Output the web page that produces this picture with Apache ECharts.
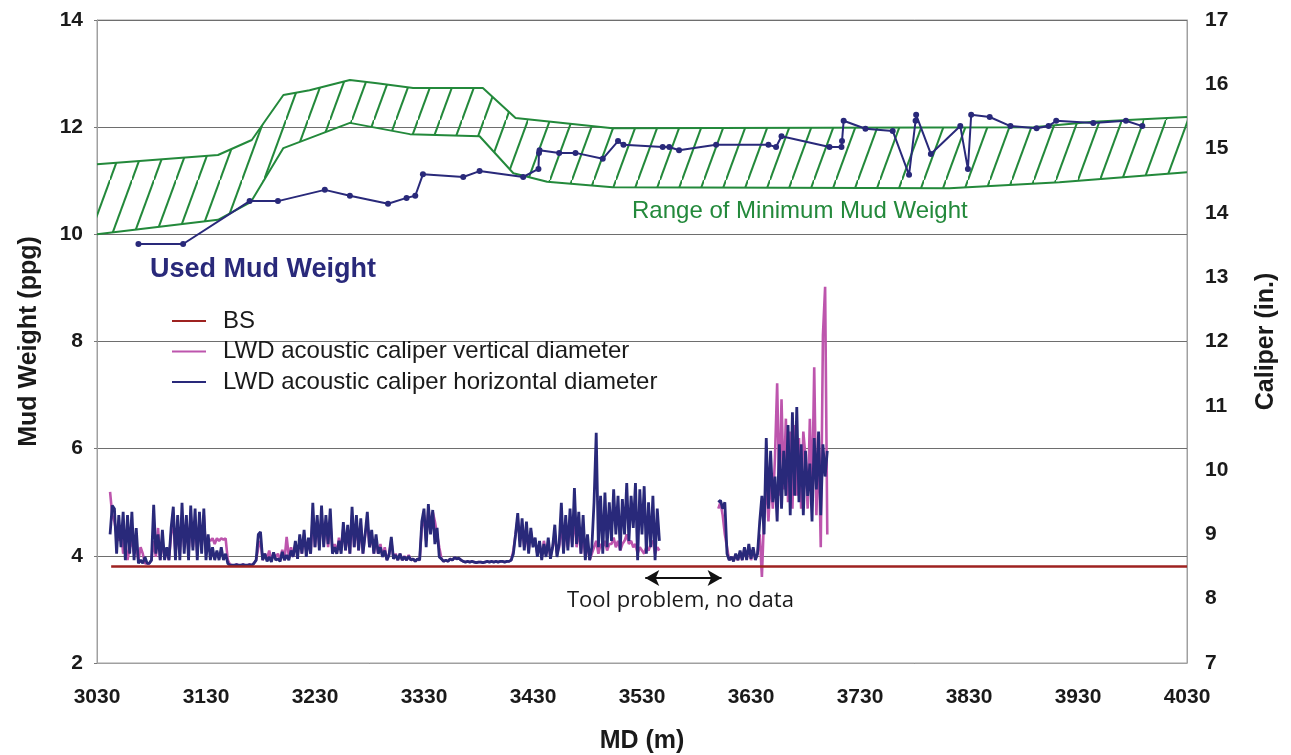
<!DOCTYPE html>
<html>
<head>
<meta charset="utf-8">
<script src="https://cdn.jsdelivr.net/npm/echarts@6/dist/echarts.min.js"></script>
<style>
html,body{margin:0;padding:0;background:#fff;}
#chart{width:1291px;height:755px;}
</style>
</head>
<body>
<div id="chart"></div>
<script>
// ---------- DATA ----------
// Range of minimum mud weight (ppg) vs MD (m)
var rangeUpperMD = [3030, 3141, 3172, 3201, 3225, 3262, 3287, 3320, 3384, 3414, 3503, 3889, 3944, 4030];
var rangeUpper   = [11.31, 11.48, 11.76, 12.6, 12.69, 12.88, 12.82, 12.73, 12.73, 12.17, 11.98, 12.0, 12.1, 12.19];
var rangeLowerMD = [3030, 3141, 3171, 3201, 3262, 3317, 3381, 3412, 3443, 3503, 3812, 3913, 4030];
var rangeLower   = [10.0, 10.27, 10.6, 11.61, 12.08, 11.87, 11.83, 11.14, 10.98, 10.88, 10.86, 10.97, 11.16];

// Used mud weight (ppg)
var usedMD = [3068, 3109, 3170, 3196, 3239, 3262, 3297, 3314, 3322, 3329, 3366, 3381, 3421, 3435, 3435.5, 3436,
  3454, 3469, 3494, 3508, 3513, 3549, 3555, 3564, 3598, 3646, 3653, 3658, 3702, 3713, 3713.5, 3715, 3735,
  3760, 3775, 3781, 3781.5, 3795, 3822, 3829, 3832, 3849, 3868, 3892, 3903, 3910, 3944, 3974, 3989];
var usedMW = [9.82, 9.82, 10.62, 10.62, 10.83, 10.72, 10.57, 10.68, 10.72, 11.12, 11.07, 11.18, 11.07, 11.22, 11.52, 11.57,
  11.52, 11.52, 11.41, 11.74, 11.67, 11.63, 11.63, 11.57, 11.67, 11.67, 11.63, 11.83, 11.63, 11.63, 11.74, 12.12, 11.97,
  11.93, 11.11, 12.12, 12.23, 11.5, 12.02, 11.22, 12.23, 12.19, 12.02, 11.98, 12.02, 12.12, 12.08, 12.12, 12.02];

// Bit size (in.)
var bsMD = [3043, 4030];
var bsValue = [8.5, 8.5];

// LWD acoustic caliper, sampled every 2 m (in.)
var calStep = 2;
var calStartA = 3042;   // first logged interval
var calStartB = 3600;   // after tool problem gap
var horizA = [
  9.0, 9.45, 9.4, 8.7, 9.3, 8.8, 9.35, 8.6, 9.3, 8.7,
  9.35, 8.6, 9.1, 8.55, 8.6, 8.55, 8.65, 8.55, 8.55, 8.6,
  9.46, 8.7, 9.0, 8.6, 9.07, 8.6, 8.8, 8.6, 9.1, 9.43,
  8.6, 9.3, 8.6, 9.49, 8.7, 9.3, 8.6, 9.45, 8.75, 9.4,
  8.6, 9.35, 8.7, 9.4, 8.6, 9.0, 8.6, 8.8, 8.6, 8.75,
  8.6, 8.8, 8.6, 8.7, 8.55, 8.52, 8.52, 8.52, 8.53, 8.52,
  8.52, 8.53, 8.52, 8.52, 8.53, 8.52, 8.55, 8.6, 9.0, 9.04,
  8.6, 8.7, 8.58, 8.65, 8.57, 8.72, 8.6, 8.62, 8.58, 8.73,
  8.6, 8.68, 8.6, 8.75, 8.65, 8.9, 8.62, 9.0, 8.7, 9.07,
  8.65, 8.95, 8.7, 9.49, 8.8, 9.3, 8.75, 9.45, 8.8, 9.3,
  8.85, 9.4, 8.7, 8.8, 8.7, 8.9, 8.7, 9.19, 8.75, 9.15,
  8.7, 9.43, 8.8, 9.3, 8.75, 9.25, 8.7, 9.0, 9.35, 8.8,
  9.07, 8.7, 9.0, 8.7, 8.8, 8.65, 8.75, 8.6, 8.68, 8.96,
  8.62, 8.68, 8.6, 8.7, 8.6, 8.65, 8.6, 8.66, 8.6, 8.62,
  8.58, 8.62, 8.6, 9.2, 9.4, 8.8, 9.47, 9.0, 9.38, 8.85,
  9.1, 8.65, 8.62, 8.58, 8.6, 8.58, 8.62, 8.6, 8.64, 8.62,
  8.63, 8.6, 8.58, 8.57, 8.58, 8.57, 8.58, 8.57, 8.56, 8.57,
  8.57, 8.56, 8.57, 8.58, 8.57, 8.58, 8.57, 8.58, 8.57, 8.58,
  8.58, 8.57, 8.58, 8.58, 8.6, 8.7, 9.0, 9.33, 8.8, 9.25,
  8.75, 9.2, 8.7, 9.1, 8.8, 8.95, 8.65, 8.9, 8.6, 8.85,
  8.65, 8.95, 8.62, 8.8, 9.15, 8.65, 8.85, 9.49, 8.7, 9.3,
  8.75, 9.4, 8.8, 9.72, 8.85, 9.35, 8.7, 9.3, 8.6, 9.0,
  8.6, 8.8, 9.5, 10.58, 8.8, 9.6, 8.7, 9.65, 8.8, 9.5,
  8.9, 9.7, 9.0, 9.6, 8.75, 9.55, 9.0, 9.8, 8.9, 9.6,
  9.1, 9.8, 8.6, 9.7, 9.0, 9.75, 8.7, 9.5, 8.8, 9.6,
  8.6, 9.4, 8.9
];
var vertA = [
  9.66, 9.3, 9.2, 9.0, 8.9, 9.1, 8.7, 8.9, 8.6, 8.8,
  8.9, 8.7, 8.8, 8.6, 8.8, 8.7, 8.55, 8.55, 8.55, 8.6,
  8.9, 8.65, 9.1, 8.6, 8.9, 8.65, 8.7, 8.6, 9.0, 9.2,
  8.7, 9.1, 8.7, 9.3, 8.8, 9.2, 8.7, 9.3, 8.8, 9.2,
  8.7, 9.2, 8.8, 9.3, 8.7, 8.94, 8.9, 8.94, 8.85, 8.94,
  8.9, 8.94, 8.92, 8.94, 8.6, 8.53, 8.52, 8.52, 8.53, 8.52,
  8.52, 8.53, 8.52, 8.52, 8.53, 8.52, 8.55, 8.6, 8.8, 8.9,
  8.6, 8.7, 8.62, 8.75, 8.6, 8.7, 8.65, 8.7, 8.6, 8.76,
  8.6, 8.96, 8.65, 8.8, 8.65, 8.85, 8.7, 8.9, 8.7, 9.0,
  8.75, 8.9, 8.7, 9.3, 8.8, 9.2, 8.8, 9.3, 8.85, 9.2,
  8.8, 9.2, 8.75, 8.85, 8.7, 8.95, 8.75, 9.1, 8.75, 9.05,
  8.7, 9.3, 8.8, 9.2, 8.75, 9.15, 8.7, 9.0, 9.2, 8.8,
  9.0, 8.7, 8.9, 8.7, 8.85, 8.65, 8.8, 8.6, 8.7, 8.9,
  8.62, 8.7, 8.6, 8.7, 8.6, 8.66, 8.6, 8.68, 8.6, 8.62,
  8.58, 8.62, 8.6, 9.1, 9.3, 8.9, 9.4, 9.1, 9.35, 9.2,
  9.0, 8.8, 8.62, 8.58, 8.6, 8.58, 8.62, 8.6, 8.64, 8.62,
  8.63, 8.6, 8.58, 8.57, 8.58, 8.57, 8.58, 8.57, 8.56, 8.57,
  8.57, 8.56, 8.57, 8.58, 8.57, 8.58, 8.57, 8.58, 8.57, 8.58,
  8.58, 8.57, 8.58, 8.58, 8.6, 8.75, 9.0, 9.25, 8.9, 9.1,
  8.8, 9.0, 8.75, 9.05, 8.85, 8.9, 8.7, 8.85, 8.65, 8.9,
  8.7, 8.85, 8.65, 8.8, 9.0, 8.7, 8.8, 9.2, 8.75, 9.1,
  8.8, 9.2, 8.85, 9.3, 8.8, 9.1, 8.7, 9.0, 8.65, 8.85,
  8.6, 8.7, 8.8, 8.9, 8.7, 8.85, 8.8, 8.9, 8.75, 8.85,
  8.85, 8.95, 8.8, 8.9, 8.75, 8.85, 8.9, 9.0, 8.85, 8.9,
  8.8, 8.85, 8.7, 8.8, 8.75, 8.7, 8.8, 8.75, 8.85, 8.9,
  8.7, 8.8, 8.75
];
var horizB = [
  9.5, 9.53, 9.4, 9.5, 8.7, 8.6, 8.65, 8.58, 8.7, 8.6,
  8.75, 8.6, 8.8, 8.6, 8.85, 8.62, 8.8, 8.6, 8.7, 9.2,
  9.6, 9.0, 10.5, 9.4, 10.3, 9.5, 9.9, 9.2, 10.4, 9.4,
  10.3, 9.6, 10.7, 9.3, 10.9, 9.6, 10.98, 9.5, 10.4, 9.3,
  10.3, 9.6, 10.1, 9.2, 10.5, 9.7, 10.6, 9.3, 10.4, 9.9,
  10.3
];
var vertB = [
  9.4, 9.5, 9.3, 9.0, 8.8, 8.6, 8.65, 8.6, 8.68, 8.6,
  8.7, 8.6, 8.78, 8.62, 8.8, 8.6, 8.75, 8.62, 8.7, 9.0,
  8.34, 9.3, 9.8, 9.2, 9.9, 9.4, 10.2, 11.35, 9.6, 11.1,
  9.7, 10.8, 9.5, 10.6, 9.4, 10.7, 9.6, 10.5, 9.4, 10.6,
  10.2, 9.4, 10.8, 9.5, 11.6, 9.3, 10.5, 8.8, 12.1, 12.85,
  9.0
];

// Axis ticks
var mdTicks = {min: 3030, max: 4030, interval: 100};
var mwTicks = {min: 2, max: 14, interval: 2};
var calTicks = {min: 7, max: 17, interval: 1};

// Annotation: tool problem arrow (MD, caliper)
var gapArrowMD = [3533, 3603];
var gapArrowCal = 8.32;

// ---------- BUILD ----------
var GREEN = '#23893b';
var NAVY = '#29297a';
var MAGENTA = '#bd55ad';
var BSRED = '#9e2220';
var FONT = 'Liberation Sans, Arial, sans-serif';

function pairs(xs, ys) { return xs.map(function (x, i) { return [x, ys[i]]; }); }
function stepped(start, vals) {
  var out = [];
  for (var i = 0; i < vals.length; i++) out.push([start + i * calStep, vals[i]]);
  return out;
}
function joinSegs(a, b) { return a.concat([[ (a[a.length-1][0] + b[0][0]) / 2, null ]], b); }

function hatchCanvas() {
  var w = 22, h = 60;
  var c = document.createElement('canvas');
  c.width = w; c.height = h;
  var g = c.getContext('2d');
  g.strokeStyle = GREEN; g.lineWidth = 2;
  [-1, 0, 1].forEach(function (n) {
    g.beginPath(); g.moveTo(0, h + n * h); g.lineTo(w, n * h); g.stroke();
  });
  return c;
}
var hatch = hatchCanvas();

var horizData = joinSegs(stepped(calStartA, horizA), stepped(calStartB, horizB));
var vertData = joinSegs(stepped(calStartA, vertA), stepped(calStartB, vertB));

var chart = echarts.init(document.getElementById('chart'), null, {renderer: 'canvas'});
var tickLabel = {fontFamily: FONT, fontWeight: 'bold', fontSize: 21, color: '#1a1a1a'};
var axisName = {fontFamily: FONT, fontWeight: 'bold', fontSize: 25, color: '#1a1a1a'};

chart.setOption({
  animation: false,
  backgroundColor: '#fff',
  grid: {left: 97, right: 104, top: 20, bottom: 92, show: true, borderColor: '#a0a0a0', borderWidth: 1,
    containLabel: false, outerBoundsMode: 'none'},
  legend: {
    orient: 'vertical', left: 172, top: 309, itemWidth: 34, itemHeight: 2, itemGap: 6.5, padding: 0,
    icon: 'rect', selectedMode: false,
    textStyle: {fontFamily: FONT, fontSize: 24, color: '#1a1a1a', padding: [0, 0, 0, 12], lineHeight: 24},
    data: ['BS', 'LWD acoustic caliper vertical diameter', 'LWD acoustic caliper horizontal diameter']
  },
  xAxis: {
    type: 'value', min: mdTicks.min, max: mdTicks.max, interval: mdTicks.interval,
    name: 'MD (m)', nameLocation: 'middle', nameGap: 66, nameMoveOverlap: false, nameTextStyle: axisName,
    axisLine: {lineStyle: {color: '#a0a0a0'}}, axisTick: {show: false},
    axisLabel: Object.assign({margin: 24, formatter: function (v) { return String(v); }}, tickLabel),
    splitLine: {show: false}
  },
  yAxis: [{
    type: 'value', min: mwTicks.min, max: mwTicks.max, interval: mwTicks.interval,
    name: 'Mud Weight (ppg)', nameLocation: 'middle', nameGap: 55, nameMoveOverlap: false, nameTextStyle: axisName,
    axisLine: {show: true, lineStyle: {color: '#a0a0a0'}},
    axisTick: {show: true, length: 3, lineStyle: {color: '#777'}},
    axisLabel: Object.assign({margin: 14}, tickLabel),
    splitLine: {show: true, lineStyle: {color: '#6e6e6e', width: 1.2}}
  }, {
    type: 'value', position: 'right', min: calTicks.min, max: calTicks.max, interval: calTicks.interval,
    name: 'Caliper (in.)', nameLocation: 'middle', nameGap: 67, nameRotate: 90, nameMoveOverlap: false, nameTextStyle: axisName,
    axisLine: {show: true, lineStyle: {color: '#a0a0a0'}}, axisTick: {show: false},
    axisLabel: Object.assign({margin: 18}, tickLabel), splitLine: {show: false}
  }],
  series: [
    {
      type: 'custom', name: 'range', silent: true, z: 1,
      xAxisIndex: 0, yAxisIndex: 0,
      data: [[rangeUpperMD[0], rangeUpper[0]]],
      renderItem: function (params, api) {
        var pts = [];
        for (var i = 0; i < rangeUpperMD.length; i++) pts.push(api.coord([rangeUpperMD[i], rangeUpper[i]]));
        for (var j = rangeLowerMD.length - 1; j >= 0; j--) pts.push(api.coord([rangeLowerMD[j], rangeLower[j]]));
        return {type: 'polygon', shape: {points: pts}, style: {fill: {image: hatch, repeat: 'repeat'}, stroke: null}};
      }
    },
    {type: 'line', name: 'upper', yAxisIndex: 0, data: pairs(rangeUpperMD, rangeUpper), showSymbol: false, silent: true,
      lineStyle: {color: GREEN, width: 2}, itemStyle: {color: GREEN}, z: 2},
    {type: 'line', name: 'lower', yAxisIndex: 0, data: pairs(rangeLowerMD, rangeLower), showSymbol: false, silent: true,
      lineStyle: {color: GREEN, width: 2}, itemStyle: {color: GREEN}, z: 2},
    {type: 'line', name: 'Used Mud Weight', yAxisIndex: 0, data: pairs(usedMD, usedMW), symbol: 'circle', symbolSize: 6,
      lineStyle: {color: NAVY, width: 2}, itemStyle: {color: NAVY}, z: 4, silent: true},
    {type: 'line', name: 'LWD acoustic caliper vertical diameter', yAxisIndex: 1, data: vertData, showSymbol: false,
      connectNulls: false, lineStyle: {color: MAGENTA, width: 2.6}, itemStyle: {color: MAGENTA}, z: 5, silent: true},
    {type: 'line', name: 'LWD acoustic caliper horizontal diameter', yAxisIndex: 1, data: horizData, showSymbol: false,
      connectNulls: false, lineStyle: {color: NAVY, width: 2.8}, itemStyle: {color: NAVY}, z: 6, silent: true,
      markLine: {
        silent: true, symbol: ['arrow', 'arrow'], symbolSize: [12, 14],
        lineStyle: {color: '#111', width: 2, type: 'solid'}, label: {show: false},
        data: [[{coord: [gapArrowMD[0], gapArrowCal]}, {coord: [gapArrowMD[1], gapArrowCal]}]]
      }},
    {type: 'line', name: 'BS', yAxisIndex: 1, data: pairs(bsMD, bsValue), showSymbol: false,
      lineStyle: {color: BSRED, width: 2.5}, itemStyle: {color: BSRED}, z: 7, silent: true}
  ],
  graphic: [
    {type: 'text', left: 632, top: 199, silent: true, z: 10,
      style: {text: 'Range of Minimum Mud Weight', fill: GREEN, font: '24px ' + FONT}},
    {type: 'text', left: 150, top: 256, silent: true, z: 10,
      style: {text: 'Used Mud Weight', fill: NAVY, font: 'bold 27px ' + FONT}},
    {type: 'text', left: 567, top: 590, silent: true, z: 10,
      style: {text: 'Tool problem, no data', fill: '#1a1a1a', font: '22px Open Sans, ' + FONT}}
  ]
});
</script>
</body>
</html>
